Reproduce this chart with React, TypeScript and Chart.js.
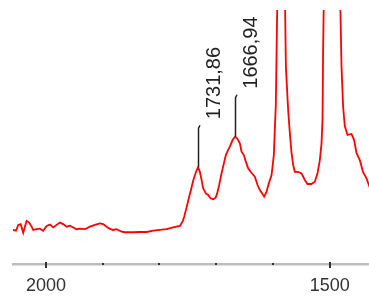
import React, { useEffect, useRef } from 'react';
import { Chart, registerables } from 'chart.js';

Chart.register(...registerables);

// IR spectrum (wavenumber, cm-1 / absorbance, arb. units)
const wavenumbers = [
  2061, 2057.6, 2052.8, 2048.8, 2044.5, 2040.0, 2037.0, 2034.0, 2029.4, 2025.2,
  2022.4, 2016.4, 2010.6, 2004.8, 1998.8, 1993.0, 1987.1, 1981.2, 1975.4, 1969.5,
  1963.6, 1957.7, 1951.9, 1946.0, 1940.1, 1931.3, 1922.5, 1913.7, 1904.9, 1899.1,
  1893.1, 1887.3, 1881.5, 1875.5, 1866.7, 1860.9, 1846.3, 1834.5, 1822.7, 1811.1,
  1799.3, 1787.5, 1775.9, 1764.1, 1759.3, 1756.5, 1752.6, 1749.1, 1744.7, 1740.3,
  1735.9, 1731.9, 1728.9, 1725.9, 1723.1, 1718.3, 1714.3, 1710.0, 1705.4, 1701.2,
  1698.4, 1694.9, 1690.7, 1686.6, 1683.1, 1679.0, 1676.0, 1671.3, 1666.9, 1663.2,
  1658.4, 1655.5, 1651.4, 1647.9, 1643.8, 1639.1, 1632.1, 1627.3, 1623.2, 1619.2,
  1615.7, 1611.4, 1607.4, 1602.6, 1598.6, 1596.9, 1595.1, 1593.1, 1591.5, 1585.7,
  1579.6, 1577.4, 1573.4, 1570.4, 1567.4, 1564.6, 1561.6, 1555.8, 1549.8, 1544.0,
  1539.3, 1532.3, 1526.4, 1521.7, 1517.6, 1514.6, 1512.9, 1511.8, 1509.9, 1496.5,
  1482.7, 1479.4, 1476.6, 1473.6, 1468.8, 1461.8, 1457.2, 1453.0, 1447.2, 1441.4,
  1435.4, 1431.3, 1426.1,
];

const absorbance = [
  0.134, 0.134, 0.131, 0.154, 0.157, 0.123, 0.147, 0.170, 0.163, 0.147,
  0.134, 0.137, 0.139, 0.131, 0.150, 0.155, 0.144, 0.154, 0.163, 0.157,
  0.147, 0.151, 0.144, 0.137, 0.139, 0.137, 0.147, 0.154, 0.160, 0.157,
  0.147, 0.138, 0.134, 0.137, 0.127, 0.125, 0.125, 0.126, 0.126, 0.131,
  0.134, 0.137, 0.144, 0.150, 0.167, 0.186, 0.220, 0.252, 0.291, 0.331,
  0.362, 0.381, 0.363, 0.331, 0.298, 0.278, 0.272, 0.259, 0.255, 0.261,
  0.278, 0.311, 0.357, 0.396, 0.429, 0.449, 0.462, 0.488, 0.501, 0.495,
  0.475, 0.442, 0.429, 0.403, 0.377, 0.362, 0.344, 0.311, 0.291, 0.278,
  0.265, 0.285, 0.318, 0.350, 0.429, 0.528, 0.626, 0.941, 1.157, 1.827,
  1.157, 0.777, 0.606, 0.515, 0.437, 0.390, 0.363, 0.363, 0.357, 0.331,
  0.315, 0.315, 0.324, 0.357, 0.409, 0.475, 0.567, 0.843, 1.157, 2.220,
  1.157, 0.777, 0.619, 0.543, 0.508, 0.512, 0.488, 0.437, 0.409, 0.362,
  0.337, 0.311, 0.283,
];

const peakPositions = [1731.86, 1666.94];
const peakLabels = ['1731,86', '1666,94'];

const tickValues = [2000, 1900, 1800, 1700, 1600, 1500];
const labeledTicks = [2000, 1500];

const X_MIN = 1431;
const X_MAX = 2058;

const FONT = 'Arial, "Liberation Sans", sans-serif';

const peakPlugin = {
  id: 'peakMarks',
  afterDatasetsDraw(chart: any) {
    const { ctx, scales } = chart;
    const x = scales.x;
    const y = scales.y;
    ctx.save();
    peakPositions.forEach((wn, i) => {
      let best = 0;
      wavenumbers.forEach((w, j) => {
        if (Math.abs(w - wn) < Math.abs(wavenumbers[best] - wn)) best = j;
      });
      const px = Math.round(x.getPixelForValue(wn)) + 0.5;
      const py = y.getPixelForValue(absorbance[best]);
      const top = py - 42;
      ctx.strokeStyle = '#222';
      ctx.lineWidth = 1.5;
      ctx.beginPath();
      ctx.moveTo(px, py);
      ctx.lineTo(px, top + 3);
      ctx.lineTo(px + 1.5, top);
      ctx.stroke();
      ctx.save();
      ctx.translate(px + 21, top - 6);
      ctx.rotate(-Math.PI / 2);
      ctx.font = `20px ${FONT}`;
      ctx.fillStyle = '#222';
      ctx.textAlign = 'left';
      ctx.textBaseline = 'alphabetic';
      ctx.fillText(peakLabels[i], 0, 0);
      ctx.restore();
    });
    ctx.restore();
  },
};

const tickMarkPlugin = {
  id: 'tickMarks',
  afterDraw(chart: any) {
    const { ctx, scales, chartArea } = chart;
    const x = scales.x;
    const b = chartArea.bottom;
    ctx.save();
    ctx.fillStyle = '#333';
    tickValues.forEach((v) => {
      const px = x.getPixelForValue(v);
      if (labeledTicks.includes(v)) {
        ctx.fillRect(Math.round(px) - 1, b - 2, 2, 6);
      } else {
        ctx.fillRect(Math.round(px) - 1, b - 1, 2, 2);
      }
    });
    ctx.restore();
  },
};

export default function App() {
  const ref = useRef<HTMLCanvasElement>(null);

  useEffect(() => {
    if (!ref.current) return;
    const chart = new Chart(ref.current, {
      type: 'line',
      data: {
        datasets: [
          {
            data: wavenumbers.map((w, i) => ({ x: w, y: absorbance[i] })),
            borderColor: '#ff0000',
            borderWidth: 1.8,
            pointRadius: 0,
            tension: 0,
            fill: false,
            clip: 0,
          },
        ],
      },
      options: {
        animation: false,
        responsive: false,
        devicePixelRatio: 1,
        events: [],
        layout: { padding: { left: 13, right: 0, top: 10, bottom: 0 } },
        plugins: {
          legend: { display: false },
          tooltip: { enabled: false },
          title: { display: false },
        },
        scales: {
          x: {
            type: 'linear',
            reverse: true,
            min: X_MIN,
            max: X_MAX,
            afterBuildTicks: (scale: any) => {
              scale.ticks = tickValues.map((v) => ({ value: v }));
            },
            afterFit: (scale: any) => {
              scale.height = 32;
            },
            grid: { display: false, drawTicks: false, tickLength: 0 },
            border: { display: true, color: '#bdbdbd', width: 2.5 },
            ticks: {
              autoSkip: false,
              maxRotation: 0,
              padding: 11,
              color: '#333',
              font: { family: FONT, size: 18 },
              callback: (value: any) => (labeledTicks.includes(Number(value)) ? String(value) : ''),
            },
          },
          y: {
            display: false,
            min: 0,
            max: 1,
          },
        },
      },
      plugins: [peakPlugin, tickMarkPlugin],
    } as any);
    return () => chart.destroy();
  }, []);

  return (
    <div style={{ position: 'fixed', left: 0, top: 0, width: 369, height: 296, background: '#fff' }}>
      <canvas ref={ref} width={369} height={296} style={{ display: 'block' }} />
    </div>
  );
}
